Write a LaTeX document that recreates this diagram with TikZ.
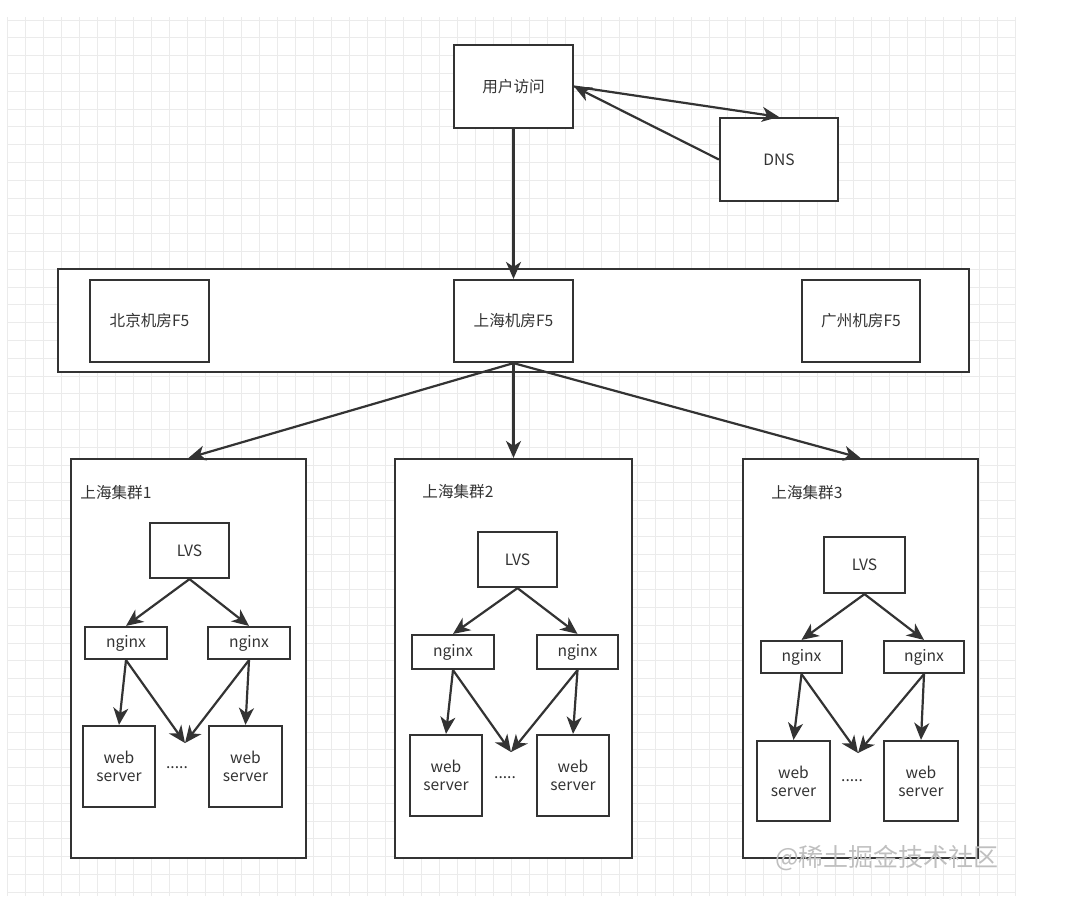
\documentclass[tikz,border=0pt]{standalone}
\usepackage{fontspec}
\setmainfont{Noto Sans CJK SC}
\usetikzlibrary{arrows.meta}

\definecolor{inkgray}{HTML}{333333}
\tikzset{
  gridline/.style={draw=black!8, line width=0.5pt},
  boxnode/.style={draw=inkgray, fill=white, line width=1.1pt, text=inkgray, inner sep=0pt,
    align=center, font=\fontsize{7.8}{9}\selectfont},
  groupbox/.style={draw=inkgray, fill=white, line width=1.1pt, inner sep=0pt},
  labeltext/.style={text=inkgray, inner sep=0pt, font=\fontsize{7.8}{9}\selectfont},
  arrowline/.style={draw=inkgray, line width=1.1pt, -{Stealth[length=8.5pt,width=7.5pt,inset=2.5pt]}},
}

\begin{document}
\begin{tikzpicture}[x=0.5pt, y=-0.5pt]
  \fill[white] (0,0) rectangle (1080,896);
  \useasboundingbox (0,0) rectangle (1080,896);
  % background grid
  \foreach \gx in {7,25,...,1015} \draw[gridline] (\gx,17) -- (\gx,896);
  \foreach \gy in {20,37.8,...,896} \draw[gridline] (7,\gy) -- (1015,\gy);

  % access and dns
  \node[boxnode, minimum width=59.5pt, minimum height=41.5pt] (user) at (513.5,86.5) {用户访问};
  \node[boxnode, minimum width=59pt, minimum height=41.5pt] (dns) at (779,159.5) {DNS};

  % F5 layer
  \node[groupbox, minimum width=455.5pt, minimum height=51.5pt] (f5) at (513.5,320.5) {};
  \node[boxnode, minimum width=59.5pt, minimum height=41pt] (bjf5) at (149.5,321) {北京机房F5};
  \node[boxnode, minimum width=59.5pt, minimum height=41pt] (shf5) at (513.5,321) {上海机房F5};
  \node[boxnode, minimum width=59pt, minimum height=41pt] (gzf5) at (861,321) {广州机房F5};

  % clusters
  \node[groupbox, minimum width=117.5pt, minimum height=199.5pt] (c1) at (188.5,658.5) {};
  \node[groupbox, minimum width=118.5pt, minimum height=199.5pt] (c2) at (513.5,658.5) {};
  \node[groupbox, minimum width=117.5pt, minimum height=199.5pt] (c3) at (860.5,658.5) {};
  \node[labeltext, anchor=west] (c1label) at (80,493) {上海集群1};
  \node[labeltext, anchor=west] (c2label) at (422,492) {上海集群2};
  \node[labeltext, anchor=west] (c3label) at (771,493) {上海集群3};

  % cluster 1
  \node[boxnode, minimum width=39.5pt, minimum height=27.5pt] (lvs1) at (189.5,550.5) {LVS};
  \node[boxnode, minimum width=41pt, minimum height=16pt] (ngxa1) at (126,643) {nginx};
  \node[boxnode, minimum width=41pt, minimum height=16pt] (ngxb1) at (249,643) {nginx};
  \node[boxnode, minimum width=36pt, minimum height=40.5pt] (weba1) at (119,766.5) {web\\server};
  \node[boxnode, minimum width=36.5pt, minimum height=40.5pt] (webb1) at (245.5,766.5) {web\\server};
  \node[labeltext] (dots1) at (177,768) {.....};
  \coordinate (more1) at (185,743);

  % cluster 2
  \node[boxnode, minimum width=39.5pt, minimum height=27.5pt] (lvs2) at (517.5,559.5) {LVS};
  \node[boxnode, minimum width=41pt, minimum height=17pt] (ngxa2) at (453,652) {nginx};
  \node[boxnode, minimum width=40.5pt, minimum height=17pt] (ngxb2) at (577.5,652) {nginx};
  \node[boxnode, minimum width=36pt, minimum height=40.5pt] (weba2) at (446,775.5) {web\\server};
  \node[boxnode, minimum width=36pt, minimum height=40.5pt] (webb2) at (573,775.5) {web\\server};
  \node[labeltext] (dots2) at (505,778) {.....};
  \coordinate (more2) at (511,752);

  % cluster 3
  \node[boxnode, minimum width=40.5pt, minimum height=28pt] (lvs3) at (864.5,565) {LVS};
  \node[boxnode, minimum width=40.5pt, minimum height=16pt] (ngxa3) at (801.5,657) {nginx};
  \node[boxnode, minimum width=40pt, minimum height=16pt] (ngxb3) at (924,657) {nginx};
  \node[boxnode, minimum width=36.5pt, minimum height=40pt] (weba3) at (793.5,781) {web\\server};
  \node[boxnode, minimum width=37pt, minimum height=40pt] (webb3) at (921,781) {web\\server};
  \node[labeltext] (dots3) at (852,781) {.....};
  \coordinate (more3) at (858,753);

  % connectors
  \draw[arrowline] (user.east) -- (dns.north);
  \draw[arrowline] (dns.west) -- (user.east);
  \draw[arrowline] (user.south) -- (shf5.north);
  \draw[arrowline] (shf5.south) -- (c1.north);
  \draw[arrowline] (shf5.south) -- (c2.north);
  \draw[arrowline] (shf5.south) -- (c3.north);

  \draw[arrowline] (lvs1.south) -- (ngxa1.north);
  \draw[arrowline] (lvs1.south) -- (ngxb1.north);
  \draw[arrowline] (ngxa1.south) -- (weba1.north);
  \draw[arrowline] (ngxa1.south) -- (more1);
  \draw[arrowline] (ngxb1.south) -- (webb1.north);
  \draw[arrowline] (ngxb1.south) -- (more1);

  \draw[arrowline] (lvs2.south) -- (ngxa2.north);
  \draw[arrowline] (lvs2.south) -- (ngxb2.north);
  \draw[arrowline] (ngxa2.south) -- (weba2.north);
  \draw[arrowline] (ngxa2.south) -- (more2);
  \draw[arrowline] (ngxb2.south) -- (webb2.north);
  \draw[arrowline] (ngxb2.south) -- (more2);

  \draw[arrowline] (lvs3.south) -- (ngxa3.north);
  \draw[arrowline] (lvs3.south) -- (ngxb3.north);
  \draw[arrowline] (ngxa3.south) -- (weba3.north);
  \draw[arrowline] (ngxa3.south) -- (more3);
  \draw[arrowline] (ngxb3.south) -- (webb3.north);
  \draw[arrowline] (ngxb3.south) -- (more3);

  % watermark
  \node[text=black!25, inner sep=0pt, font=\fontsize{12.5}{14}\selectfont] (mark) at (887,858) {@稀土掘金技术社区};
\end{tikzpicture}
\end{document}
